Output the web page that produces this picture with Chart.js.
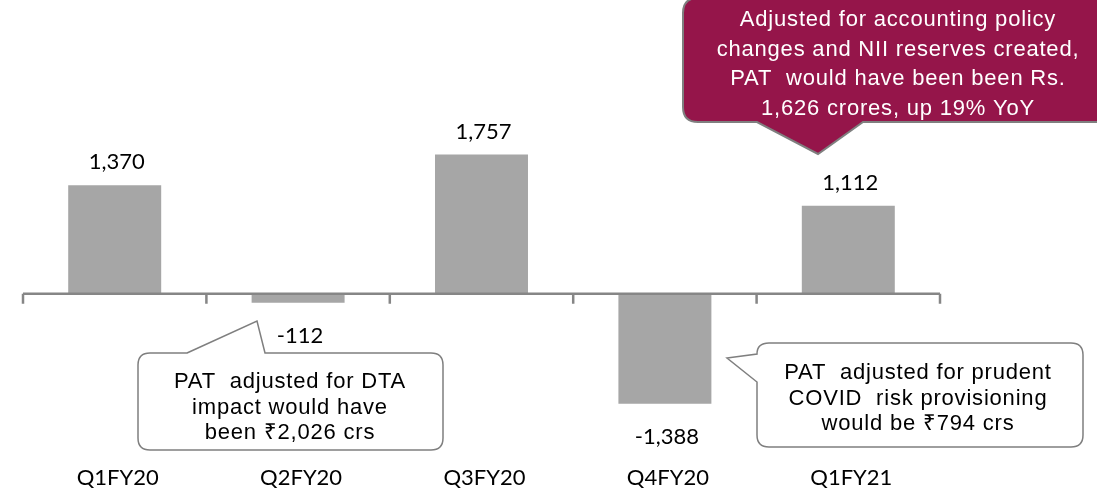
<!DOCTYPE html>
<html>
<head>
<meta charset="utf-8">
<script src="https://cdn.jsdelivr.net/npm/chart.js@4"></script>
<style>
  html, body { margin: 0; padding: 0; background: #fff; }
  #wrap { width: 1097px; height: 489px; position: relative; }
</style>
</head>
<body>
<div id="wrap"><canvas id="patChart"></canvas></div>
<script>
// PAT by quarter (Rs. crores)
var quarters = ['Q1FY20', 'Q2FY20', 'Q3FY20', 'Q4FY20', 'Q1FY21'];
var patValues = [1370, -112, 1757, -1388, 1112];
var valueLabels = ['1,370', '-112', '1,757', '-1,388', '1,112'];

var dtaNote = ['PAT  adjusted for DTA', 'impact would have', 'been \u20b92,026 crs'];
var covidNote = ['PAT  adjusted for prudent', 'COVID  risk provisioning', 'would be \u20b9794 crs'];
var policyNote = ['Adjusted for accounting policy', 'changes and NII reserves created,', 'PAT  would have been been Rs.', '1,626 crores, up 19% YoY'];

var labelFont = 'Lato, "Open Sans", sans-serif';
var noteFont = '"Liberation Sans", Arial, sans-serif';

function writeLines(ctx, lines, cx, y0, step) {
  lines.forEach(function(line, i) {
    ctx.fillText(line, cx, y0 + i * step);
  });
}

// zero line with category tick marks
var baseline = {
  id: 'baseline',
  afterDatasetsDraw: function(chart) {
    var ctx = chart.ctx;
    var x = chart.scales.x;
    var y0 = chart.scales.y.getPixelForValue(0);
    ctx.save();
    ctx.strokeStyle = '#868686';
    ctx.lineWidth = 2.5;
    ctx.beginPath();
    ctx.moveTo(x.left, y0);
    ctx.lineTo(x.right, y0);
    for (var i = 0; i <= quarters.length; i++) {
      var px = x.left + i * (x.right - x.left) / quarters.length;
      ctx.moveTo(px, y0);
      ctx.lineTo(px, y0 + 10);
    }
    ctx.stroke();
    ctx.restore();
  }
};

// value labels above / below each bar
var barLabels = {
  id: 'barLabels',
  afterDatasetsDraw: function(chart) {
    var ctx = chart.ctx;
    var meta = chart.getDatasetMeta(0);
    ctx.save();
    ctx.font = '22px ' + labelFont;
    ctx.fillStyle = '#000';
    ctx.textAlign = 'center';
    ctx.textBaseline = 'middle';
    meta.data.forEach(function(bar, i) {
      var ty = patValues[i] >= 0 ? bar.y - 23 : bar.y + 33;
      ctx.fillText(valueLabels[i], bar.x + 2, ty);
    });
    ctx.restore();
  }
};

// the three callout boxes
var callouts = {
  id: 'callouts',
  afterDraw: function(chart) {
    var ctx = chart.ctx;
    ctx.save();
    ctx.textAlign = 'center';
    ctx.textBaseline = 'middle';
    ctx.letterSpacing = '0.8px';

    // DTA note under Q2
    ctx.beginPath();
    ctx.moveTo(187, 353);
    ctx.lineTo(257, 321);
    ctx.lineTo(265, 353);
    ctx.lineTo(431, 353);
    ctx.quadraticCurveTo(443, 353, 443, 365);
    ctx.lineTo(443, 438);
    ctx.quadraticCurveTo(443, 450, 431, 450);
    ctx.lineTo(150, 450);
    ctx.quadraticCurveTo(138, 450, 138, 438);
    ctx.lineTo(138, 365);
    ctx.quadraticCurveTo(138, 353, 150, 353);
    ctx.closePath();
    ctx.fillStyle = '#fff';
    ctx.fill();
    ctx.strokeStyle = '#7f7f7f';
    ctx.lineWidth = 1.5;
    ctx.stroke();
    ctx.fillStyle = '#000';
    ctx.font = '22px ' + noteFont;
    writeLines(ctx, dtaNote, 290, 382, 25.5);

    // COVID note beside Q4
    ctx.beginPath();
    ctx.moveTo(769, 343);
    ctx.lineTo(1071, 343);
    ctx.quadraticCurveTo(1083, 343, 1083, 355);
    ctx.lineTo(1083, 435);
    ctx.quadraticCurveTo(1083, 447, 1071, 447);
    ctx.lineTo(769, 447);
    ctx.quadraticCurveTo(757, 447, 757, 435);
    ctx.lineTo(757, 382);
    ctx.lineTo(727, 358);
    ctx.lineTo(757, 354);
    ctx.quadraticCurveTo(757, 343, 769, 343);
    ctx.closePath();
    ctx.fillStyle = '#fff';
    ctx.fill();
    ctx.stroke();
    ctx.fillStyle = '#000';
    writeLines(ctx, covidNote, 918, 373, 25.5);

    // policy note above Q1FY21
    ctx.beginPath();
    ctx.moveTo(698, -2);
    ctx.lineTo(1110, -2);
    ctx.lineTo(1110, 122);
    ctx.lineTo(863, 122);
    ctx.lineTo(818, 154);
    ctx.lineTo(757, 122);
    ctx.lineTo(698, 122);
    ctx.quadraticCurveTo(683, 122, 683, 107);
    ctx.lineTo(683, 13);
    ctx.quadraticCurveTo(683, -2, 698, -2);
    ctx.closePath();
    ctx.fillStyle = '#95154a';
    ctx.fill();
    ctx.strokeStyle = '#7f7f7f';
    ctx.lineWidth = 2;
    ctx.stroke();
    ctx.fillStyle = '#fff';
    ctx.font = '22px ' + noteFont;
    writeLines(ctx, policyNote, 898, 20, 29.5);

    ctx.restore();
  }
};

var ctx = document.getElementById('patChart').getContext('2d');
var patChart = new Chart(ctx, {
  type: 'bar',
  data: {
    labels: quarters,
    datasets: [{
      data: patValues,
      backgroundColor: '#a6a6a6',
      borderWidth: 0,
      categoryPercentage: 1,
      barPercentage: 0.507
    }]
  },
  options: {
    responsive: true,
    maintainAspectRatio: false,
    animation: false,
    layout: { padding: { left: 23, right: 157, top: 0, bottom: -5 } },
    plugins: {
      legend: { display: false },
      tooltip: { enabled: false }
    },
    scales: {
      x: {
        grid: { display: false, drawTicks: false },
        border: { display: false },
        ticks: {
          color: '#000',
          padding: 3,
          labelOffset: 3,
          font: { family: labelFont, size: 22 }
        }
      },
      y: {
        display: false,
        min: -2118,
        max: 3707
      }
    }
  },
  plugins: [baseline, barLabels, callouts]
});
</script>
</body>
</html>
